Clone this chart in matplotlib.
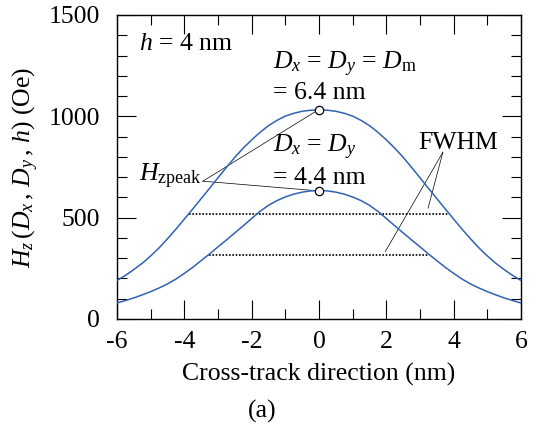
import matplotlib
matplotlib.use("Agg")
import matplotlib.pyplot as plt
from matplotlib.ticker import MultipleLocator

plt.rcParams["font.family"] = ["Liberation Serif", "DejaVu Serif"]
plt.rcParams["mathtext.fontset"] = "custom"
plt.rcParams["mathtext.rm"] = "Liberation Serif"
plt.rcParams["mathtext.it"] = "Liberation Serif:italic"

# Cross-track position (nm), 0.25 nm steps
x_nm = [-6.0, -5.75, -5.5, -5.25, -5.0, -4.75, -4.5, -4.25, -4.0, -3.75, -3.5, -3.25,
        -3.0, -2.75, -2.5, -2.25, -2.0, -1.75, -1.5, -1.25, -1.0, -0.75, -0.5, -0.25,
        0.0,
        0.25, 0.5, 0.75, 1.0, 1.25, 1.5, 1.75, 2.0, 2.25, 2.5, 2.75, 3.0,
        3.25, 3.5, 3.75, 4.0, 4.25, 4.5, 4.75, 5.0, 5.25, 5.5, 5.75, 6.0]

# Hz for Dx = Dy = Dm = 6.4 nm (Oe)
hz_dm = [190, 215, 244, 275, 311, 351, 396, 443, 493, 543, 594, 645,
         697, 748, 798, 843, 884, 921, 954, 980, 1001, 1015, 1025, 1030,
         1032,
         1030, 1025, 1015, 1001, 980, 954, 921, 884, 843, 798, 748, 697,
         645, 594, 543, 493, 443, 396, 351, 311, 275, 244, 215, 190]

# Hz for Dx = Dy = 4.4 nm (Oe)
hz_44 = [79, 91, 104, 119, 135, 153, 173, 197, 225, 255, 288, 321,
         356, 390, 425, 460, 496, 531, 561, 584, 602, 616, 626, 632,
         634,
         632, 626, 616, 602, 584, 561, 531, 496, 460, 425, 390, 356,
         321, 288, 255, 225, 197, 173, 153, 135, 119, 104, 91, 79]

# Peak values and half-maximum extents
peaks = [1032, 634]
fwhm_left = [-3.85, -3.27]
fwhm_right = [3.85, 3.25]

blue = "#3062b4"

fig = plt.figure(figsize=(5.36, 4.26), dpi=100)
ax = fig.add_axes([0.2183, 0.2512, 0.7537, 0.7136])

ax.plot(x_nm, hz_dm, color=blue, lw=1.1, zorder=3, solid_joinstyle="round")
ax.plot(x_nm, hz_44, color=blue, lw=1.1, zorder=3, solid_joinstyle="round")

# Half-maximum dotted lines
for pk, xl, xr in zip(peaks, fwhm_left, fwhm_right):
    ax.plot([xl, xr], [pk / 2, pk / 2], color="black", lw=1.2,
            linestyle=(0, (1, 1)), zorder=2)

# Peak markers
ax.plot([0, 0], peaks, linestyle="none", marker="o", markersize=6,
        markerfacecolor="white", markeredgecolor="black", markeredgewidth=0.9, zorder=4)

# Leader lines from the H_zpeak label to the peaks
lx, ly = -3.45, 680
ax.plot([lx, -0.12], [ly, peaks[0] - 10], color="black", lw=0.5, zorder=2)
ax.plot([lx, -0.15], [ly, peaks[1]], color="black", lw=0.5, zorder=2)

# Leader lines from FWHM label to the dotted lines
fx, fy = 3.68, 823
ax.plot([fx, 3.24], [fy, 547], color="black", lw=0.5, zorder=2)
ax.plot([fx, 1.97], [fy, 333], color="black", lw=0.5, zorder=2)

fs = 18.5
ax.text(-5.35, 1325, r"$h$ = 4 nm", fontsize=fs, ha="left", va="baseline")
ax.text(-1.37, 1230, r"$D_x$ = $D_y$ = $D_{\mathrm{m}}$", fontsize=fs, ha="left", va="baseline")
ax.text(-1.37, 1085, r"= 6.4 nm", fontsize=fs, ha="left", va="baseline")
ax.text(-1.37, 820, r"$D_x$ = $D_y$", fontsize=fs, ha="left", va="baseline")
ax.text(-1.37, 665, r"= 4.4 nm", fontsize=fs, ha="left", va="baseline")
ax.text(2.95, 840, "FWHM", fontsize=fs, ha="left", va="baseline")
ax.text(-5.35, 680, r"$H_{\mathrm{zpeak}}$", fontsize=fs, ha="left", va="baseline")

ax.set_xlim(-6, 6)
ax.set_ylim(0, 1500)
ax.xaxis.set_major_locator(MultipleLocator(2))
ax.xaxis.set_minor_locator(MultipleLocator(1))
ax.yaxis.set_major_locator(MultipleLocator(500))
ax.yaxis.set_minor_locator(MultipleLocator(100))
ax.tick_params(which="both", direction="in", top=True, right=True, width=0.8,
               labelsize=fs, colors="black")
ax.tick_params(axis="x", which="both", pad=9)
ax.tick_params(axis="y", which="both", pad=12)
ax.tick_params(which="major", length=13.5)
ax.tick_params(which="minor", length=7)
for sp in ax.spines.values():
    sp.set_linewidth(1.0)

ax.set_xticklabels([f"{int(v)}" for v in ax.get_xticks()])
ax.set_xlabel("Cross-track direction (nm)", fontsize=fs, labelpad=7)
ax.set_ylabel(r"$H_z\,(D_x\,,\,D_y\,,\,h)$ (Oe)", fontsize=fs, labelpad=6)

fig.text(262 / 536, 1 - 411 / 426, "(a)", fontsize=fs, ha="center", va="center")

fig.savefig("out.png", dpi=100)
